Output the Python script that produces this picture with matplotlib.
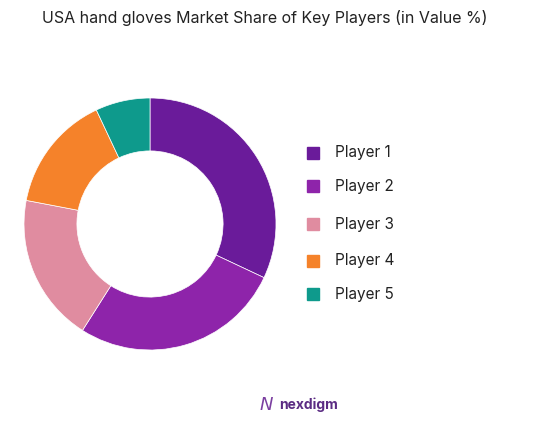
import matplotlib
matplotlib.use("Agg")
import matplotlib.pyplot as plt
from matplotlib.patches import Rectangle

labels = ["Player 1", "Player 2", "Player 3", "Player 4", "Player 5"]
values = [32, 27, 19, 15, 7]
colors = ["#6A1B9A", "#8E24AA", "#E08CA0", "#F5822A", "#0E9A8C"]

W, H = 538, 426
fig = plt.figure(figsize=(W/100, H/100), dpi=100)
ax = fig.add_axes([24/W, 1-350/H, 252/W, 252/H])
ax.pie(values, colors=colors, startangle=90, counterclock=False, radius=1,
       wedgeprops=dict(width=0.42, edgecolor="white", linewidth=0.5))
ax.set_xlim(-1, 1)
ax.set_ylim(-1, 1)
ax.set_aspect("equal")

fig.text(265/W, 1-18/H, "USA hand gloves Market Share of Key Players (in Value %)",
         ha="center", va="center", fontsize=11.5, family="Inter", color="#222222")

ys = [153, 186, 224, 261, 294]
for lab, c, y in zip(labels, colors, ys):
    fig.patches.append(Rectangle((307/W, 1-(y+6)/H), 12/W, 12/H,
                                 transform=fig.transFigure, color=c))
    fig.text(335/W, 1-y/H, lab, ha="left", va="center", fontsize=11,
             family="Inter", color="#222222")

fig.text(279/W, 1-405/H, "nexdigm", ha="left", va="center", fontsize=10,
         family="Inter", color="#5B2C83", weight="bold")
fig.text(266/W, 1-405/H, "N", ha="center", va="center", fontsize=13,
         family="DejaVu Sans", color="#7B3FA0", style="italic")
fig.savefig("out.png", dpi=100)
